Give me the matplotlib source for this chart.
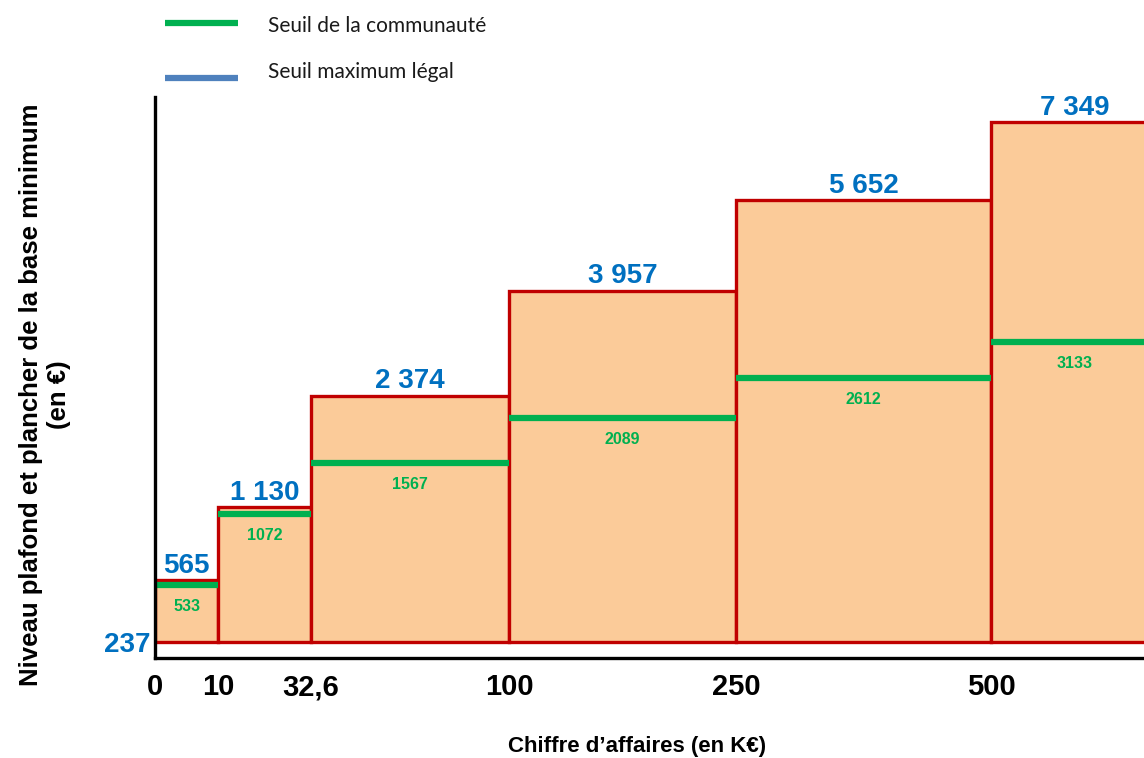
import matplotlib.pyplot as plt
from matplotlib.lines import Line2D
import numpy as np

plt.rcParams['font.family'] = ['Liberation Sans', 'DejaVu Sans']

#======= Donnees =======

tranches_ca = ["0", "10", "32,6", "100", "250", "500"]     # K€
plancher = 237                                             # €
seuil_legal = [565, 1130, 2374, 3957, 5652, 7349]          # €
seuil_communaute = [533, 1072, 1567, 2089, 2612, 3133]     # €

#======= Mise en page =======

largeurs = [0.63, 0.93, 1.98, 2.27, 2.55, 1.68]   # largeur dessinee de chaque tranche
bords = np.concatenate([[0], np.cumsum(largeurs)])

rouge = "#C00000"
orange = "#FBCB99"
vert = "#00B050"
bleu = "#0070C0"
bleu_legende = "#4F81BD"

fig = plt.figure(figsize=(11.44, 7.58), dpi=100)
ax = fig.add_axes([155/1144, 1-658/758, 989/1144, 561/758])

# echelle en racine carree, comme sur le schema
ax.set_yscale('function', functions=(np.sqrt, np.square))

#======= Barres =======

ax.bar(bords[:-1], np.array(seuil_legal) - plancher, bottom=plancher,
       width=largeurs, align='edge', color=orange, edgecolor=rouge, linewidth=2.4)

for i in range(len(seuil_legal)):
    centre = bords[i] + largeurs[i]/2
    ax.hlines(seuil_communaute[i], bords[i], bords[i+1], color=vert, linewidth=4.5)
    ax.annotate(f"{seuil_legal[i]:,}".replace(",", " "), (centre, seuil_legal[i]),
                xytext=(0, 1), textcoords='offset points', ha='center', va='bottom',
                fontsize=20, fontweight='bold', color=bleu)
    ax.annotate(str(seuil_communaute[i]), (centre, seuil_communaute[i]),
                xytext=(0, -10), textcoords='offset points', ha='center', va='top',
                fontsize=11.5, fontweight='bold', color=vert)

#======= Axes =======

ax.set_xlim(0, 9.89)
ax.set_ylim(175, 7939)

ax.set_xticks(bords[:-1])
ax.set_xticklabels(tranches_ca, fontsize=21, fontweight='bold')
ax.set_yticks([plancher])
ax.set_yticklabels([str(plancher)], fontsize=20, fontweight='bold', color=bleu)
ax.yaxis.set_minor_locator(plt.NullLocator())
ax.tick_params(axis='x', length=0, pad=11)
ax.tick_params(axis='y', length=0, pad=3)

for cote in ['top', 'right']:
    ax.spines[cote].set_visible(False)
for cote in ['left', 'bottom']:
    ax.spines[cote].set_linewidth(2.4)
    ax.spines[cote].set_color('black')

fig.text(45/1144, 1-395/758, "Niveau plafond et plancher de la base minimum\n(en €)",
         rotation=90, ha='center', va='center', multialignment='center',
         fontsize=18.5, fontweight='bold', linespacing=1.25)
fig.text(637/1144, 1-736/758, "Chiffre d’affaires (en K€)", ha='center', va='top',
         fontsize=16, fontweight='bold')

#======= Legende =======

fig.add_artist(Line2D([165/1144, 238/1144], [1-23/758, 1-23/758], color=vert,
                      linewidth=4.5, solid_capstyle='butt'))
fig.add_artist(Line2D([165/1144, 238/1144], [1-78/758, 1-78/758], color=bleu_legende,
                      linewidth=4.5, solid_capstyle='butt'))
fig.text(268/1144, 1-26/758, "Seuil de la communauté", ha='left', va='center',
         fontsize=15, family=['Lato', 'DejaVu Sans'], color='#1a1a1a')
fig.text(268/1144, 1-72/758, "Seuil maximum légal", ha='left', va='center',
         fontsize=15, family=['Lato', 'DejaVu Sans'], color='#1a1a1a')

plt.savefig("out.png", dpi=100)
